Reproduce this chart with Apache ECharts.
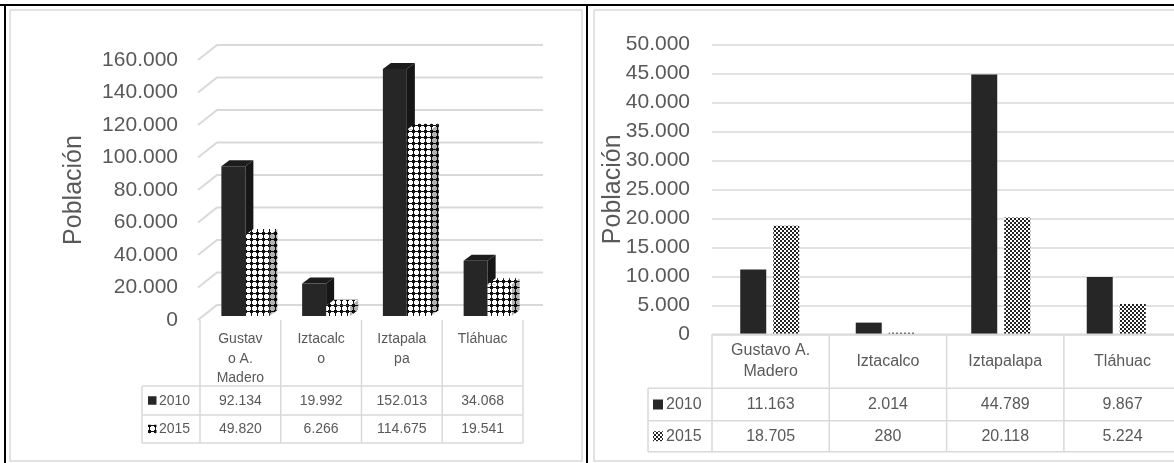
<!DOCTYPE html>
<html><head><meta charset="utf-8">
<script src="https://cdn.jsdelivr.net/npm/echarts@6/dist/echarts.min.js"></script>
<style>html,body{margin:0;padding:0;background:#fff}#c{width:1174px;height:463px}</style>
</head><body><div id="c"></div>
<script>
// ---------- data ----------
const categories = ['Gustavo A. Madero', 'Iztacalco', 'Iztapalapa', 'Tláhuac'];
const leftCategoryLabels = ['Gustav\no A.\nMadero', 'Iztacalc\no', 'Iztapala\npa', 'Tláhuac'];
const rightCategoryLabels = ['Gustavo A.\nMadero', 'Iztacalco', 'Iztapalapa', 'Tláhuac'];
const seriesNames = ['2010', '2015'];
const left2010 = [92134, 19992, 152013, 34068];
const left2015 = [49820, 6266, 114675, 19541];
const right2010 = [11163, 2014, 44789, 9867];
const right2015 = [18705, 280, 20118, 5224];
const leftTicks = [0, 20000, 40000, 60000, 80000, 100000, 120000, 140000, 160000];
const rightTicks = [0, 5000, 10000, 15000, 20000, 25000, 30000, 35000, 40000, 45000, 50000];
const yAxisName = 'Población';

// ---------- style ----------
const FONT = '"Liberation Sans", Arial, sans-serif';
const GRAY = '#595959';
const LINE = '#d9d9d9';
const fmt = v => String(v).replace(/\B(?=(\d{3})+(?!\d))/g, '.');

function makeCanvas(w, h, draw) { const c = document.createElement('canvas'); c.width = w; c.height = h; draw(c.getContext('2d')); return c; }
const crossPat = makeCanvas(6, 6, ctx => { ctx.fillStyle = '#111'; ctx.fillRect(0, 0, 6, 6); ctx.fillStyle = '#fff'; ctx.fillRect(0, 1, 5, 3); ctx.fillRect(1, 0, 3, 5); });
const checkPat = makeCanvas(4, 4, ctx => { ctx.fillStyle = '#fff'; ctx.fillRect(0, 0, 4, 4); ctx.fillStyle = '#222'; ctx.fillRect(0, 0, 2, 2); ctx.fillRect(2, 2, 2, 2); });
const crossFill = { image: crossPat, repeat: 'repeat' };
const checkFill = { image: checkPat, repeat: 'repeat' };

// layout geometry
const L = { left: 200, top: 60, width: 323, height: 260, legendX: 142, headerBottom: 386, row1: 415, row2: 443 };
const R = { left: 712, top: 44.3, width: 469.2, height: 290, legendX: 648, headerBottom: 388.3, row1: 420.7, row2: 451.7 };

// ---------- 3D bars (left) ----------
const DEPTH = { dx: 8, dy: -6, shiftX: 5, shiftY: -4, bw: 24 };
function bar3D(idx, front, top, side, shade) {
  return function (params, api) {
    const ci = api.value(0), v = api.value(1);
    const base = api.coord([ci, 0]), tp = api.coord([ci, v]);
    const bw = DEPTH.bw, dx = DEPTH.dx, dy = DEPTH.dy;
    const cx = base[0] + DEPTH.shiftX;
    const x0 = idx === 0 ? cx - bw : cx;
    const yb = base[1] + DEPTH.shiftY, yt = tp[1] + DEPTH.shiftY;
    const sidePts = [[x0 + bw, yt], [x0 + bw + dx, yt + dy], [x0 + bw + dx, yb + dy], [x0 + bw, yb]];
    const children = [
      { type: 'polygon', shape: { points: sidePts }, style: { fill: side } },
      { type: 'polygon', shape: { points: [[x0, yt], [x0 + bw, yt], [x0 + bw + dx, yt + dy], [x0 + dx, yt + dy]] }, style: { fill: top } },
      { type: 'rect', shape: { x: x0, y: yt, width: bw, height: yb - yt }, style: { fill: front } }
    ];
    if (shade) children.splice(1, 0, { type: 'polygon', shape: { points: sidePts }, style: { fill: 'rgba(0,0,0,0.3)' } });
    return { type: 'group', children };
  };
}
function wallGrid(params, api) {
  const cs = params.coordSys;
  const y = api.coord([0, api.value(1)])[1];
  return { type: 'polyline', shape: { points: [[cs.x - 2, y], [cs.x + 17, y - 15], [cs.x + cs.width + 20, y - 15]] }, style: { stroke: LINE, lineWidth: 2, fill: null } };
}

// ---------- tables ----------
function buildTable(g, labels, v1, v2, fs, lh, headerY, headerVA, icon2015, iconX, iconSize, textX, topLine) {
  const n = labels.length, cw = g.width / n, floorY = g.top + g.height;
  const xs = []; for (let i = 0; i <= n; i++) xs.push(g.left + cw * i);
  const els = [];
  const ln = (x1, y1, x2, y2) => els.push({ type: 'line', silent: true, z: 5, shape: { x1, y1, x2, y2 }, style: { stroke: LINE, lineWidth: 1.5 } });
  xs.forEach(x => ln(x, floorY, x, g.row2));
  ln(g.legendX, g.headerBottom, g.legendX, g.row2);
  [g.headerBottom, g.row1, g.row2].forEach(y => ln(g.legendX, y, xs[n], y));
  if (topLine) ln(xs[0], floorY, xs[n], floorY);
  const txt = (x, y, t, align, va) => els.push({ type: 'text', z: 6, x, y, silent: true, style: { text: t, fill: GRAY, fontSize: fs, fontFamily: FONT, align, verticalAlign: va, lineHeight: lh } });
  labels.forEach((t, i) => txt(xs[i] + cw / 2, headerY, t, 'center', headerVA));
  const c1 = (g.headerBottom + g.row1) / 2, c2 = (g.row1 + g.row2) / 2;
  v1.forEach((v, i) => txt(xs[i] + cw / 2, c1 + 0.5, fmt(v), 'center', 'middle'));
  v2.forEach((v, i) => txt(xs[i] + cw / 2, c2 + 0.5, fmt(v), 'center', 'middle'));
  els.push({ type: 'rect', z: 6, silent: true, shape: { x: iconX, y: c1 - iconSize / 2, width: iconSize, height: iconSize }, style: { fill: '#262626' } });
  els.push({ type: 'rect', z: 6, silent: true, shape: { x: iconX, y: c2 - iconSize / 2, width: iconSize, height: iconSize }, style: { fill: icon2015 } });
  txt(textX, c1 + 0.5, seriesNames[0], 'left', 'middle');
  txt(textX, c2 + 0.5, seriesNames[1], 'left', 'middle');
  return els;
}

const frames = [
  { type: 'rect', z: 20, silent: true, shape: { x: 10, y: 10, width: 572, height: 451 }, style: { fill: null, stroke: LINE, lineWidth: 1.5 } },
  { type: 'polyline', z: 20, silent: true, shape: { points: [[1180, 10], [594, 10], [594, 461], [1180, 461]] }, style: { fill: null, stroke: LINE, lineWidth: 1.5 } },
  { type: 'rect', z: 21, silent: true, shape: { x: 0, y: 4, width: 1174, height: 2 }, style: { fill: '#000' } },
  { type: 'rect', z: 21, silent: true, shape: { x: 4, y: 4, width: 2, height: 463 }, style: { fill: '#000' } },
  { type: 'rect', z: 21, silent: true, shape: { x: 586, y: 4, width: 2, height: 463 }, style: { fill: '#000' } }
];

const graphics = [].concat(
  frames,
  buildTable(L, leftCategoryLabels, left2010, left2015, 14, 19.5, 329.5, 'top', crossFill, 148, 8.5, 159, false),
  buildTable(R, rightCategoryLabels, right2010, right2015, 16, 21, 361.5, 'middle', checkFill, 653, 10, 666, true)
);

const chart = echarts.init(document.getElementById('c'), null, { renderer: 'canvas' });
chart.setOption({
  animation: false,
  backgroundColor: '#fff',
  textStyle: { fontFamily: FONT },
  grid: [
    { left: L.left, top: L.top, width: L.width, height: L.height },
    { left: R.left, top: R.top, width: R.width, height: R.height }
  ],
  xAxis: [
    { gridIndex: 0, type: 'category', data: categories, axisLine: { show: false }, axisTick: { show: false }, axisLabel: { show: false } },
    { gridIndex: 1, type: 'category', data: categories, axisLine: { show: false }, axisTick: { show: false }, axisLabel: { show: false } }
  ],
  yAxis: [
    { gridIndex: 0, type: 'value', min: 0, max: 160000, interval: 20000,
      name: yAxisName, nameLocation: 'middle', nameRotate: 90, nameGap: 113, nameMoveOverlap: false,
      nameTextStyle: { fontSize: 25, color: GRAY, fontFamily: FONT },
      axisLine: { show: false }, axisTick: { show: false }, splitLine: { show: false },
      axisLabel: { fontSize: 21, color: GRAY, margin: 22, fontFamily: FONT, formatter: fmt } },
    { gridIndex: 1, type: 'value', min: 0, max: 50000, interval: 5000,
      name: yAxisName, nameLocation: 'middle', nameRotate: 90, nameGap: 86, nameMoveOverlap: false,
      nameTextStyle: { fontSize: 25, color: GRAY, fontFamily: FONT },
      axisLine: { show: false }, axisTick: { show: false },
      splitLine: { lineStyle: { color: LINE, width: 1.5 } },
      axisLabel: { fontSize: 21, color: GRAY, margin: 22, fontFamily: FONT, formatter: fmt } }
  ],
  series: [
    { type: 'custom', name: 'grid', xAxisIndex: 0, yAxisIndex: 0, z: 1, silent: true, renderItem: wallGrid,
      data: leftTicks.map(t => [0, t]), encode: { x: 0, y: 1 } },
    { type: 'custom', name: seriesNames[0], xAxisIndex: 0, yAxisIndex: 0, z: 2, silent: true,
      renderItem: bar3D(0, '#262626', '#1c1c1c', '#161616', false),
      data: left2010.map((v, i) => [i, v]), encode: { x: 0, y: 1 } },
    { type: 'custom', name: seriesNames[1], xAxisIndex: 0, yAxisIndex: 0, z: 3, silent: true,
      renderItem: bar3D(1, crossFill, crossFill, crossFill, true),
      data: left2015.map((v, i) => [i, v]), encode: { x: 0, y: 1 } },
    { type: 'bar', name: seriesNames[0], xAxisIndex: 1, yAxisIndex: 1, data: right2010, barWidth: 26, barGap: '27%',
      itemStyle: { color: '#262626' }, silent: true },
    { type: 'bar', name: seriesNames[1], xAxisIndex: 1, yAxisIndex: 1, data: right2015, barWidth: 26, barGap: '27%',
      itemStyle: { color: checkFill }, silent: true }
  ],
  graphic: { elements: graphics }
});
</script>
</body></html>
